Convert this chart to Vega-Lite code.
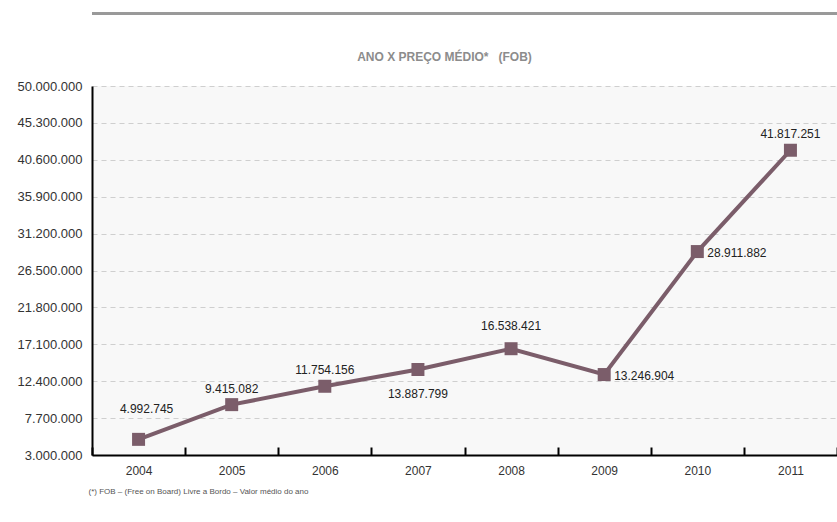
{
  "$schema": "https://vega.github.io/schema/vega-lite/v6.json",
  "width": 745,
  "height": 369,
  "autosize": {"type": "none"},
  "padding": {"left": 92, "top": 86, "right": 0, "bottom": 67},
  "background": "#ffffff",
  "title": {
    "text": "ANO X PREÇO MÉDIO*\u00a0\u00a0\u00a0(FOB)",
    "fontSize": 12,
    "fontWeight": "bold",
    "color": "#8c8c8c",
    "font": "Liberation Sans",
    "offset": 18,
    "dy": 69,
    "dx": -20
  },
  "config": {
    "locale": {"number": {"decimal": ",", "thousands": ".", "grouping": [3], "currency": ["R$", ""]}},
    "view": {"fill": "#f8f8f8", "stroke": null},
    "font": "Liberation Sans"
  },
  "data": {
    "values": [
      {"ano": "2004", "preco": 4992745},
      {"ano": "2005", "preco": 9415082},
      {"ano": "2006", "preco": 11754156},
      {"ano": "2007", "preco": 13887799},
      {"ano": "2008", "preco": 16538421},
      {"ano": "2009", "preco": 13246904},
      {"ano": "2010", "preco": 28911882},
      {"ano": "2011", "preco": 41817251}
    ]
  },
  "encoding": {
    "x": {
      "field": "ano",
      "type": "ordinal",
      "scale": {"paddingInner": 0, "paddingOuter": 0},
      "axis": {
        "title": "(*) FOB – (Free on Board) Livre a Bordo –  Valor médio do ano",
        "titleFontSize": 8,
        "titleFontWeight": "normal",
        "titleColor": "#555555",
        "titleAnchor": "start",
        "titleAlign": "left",
        "titleX": -4,
        "titleY": 32,
        "labelAngle": 0,
        "labelFontSize": 12,
        "labelColor": "#333333",
        "labelPadding": 18,
        "tickBand": "extent",
        "tickSize": -8,
        "tickWidth": 2,
        "tickColor": "#000000",
        "domainColor": "#000000",
        "domainWidth": 2,
        "grid": false
      }
    },
    "y": {
      "field": "preco",
      "type": "quantitative",
      "scale": {"domain": [3000000, 50000000], "nice": false, "zero": false},
      "axis": {
        "title": null,
        "values": [3000000, 7700000, 12400000, 17100000, 21800000, 26500000, 31200000, 35900000, 40600000, 45300000, 50000000],
        "format": ",d",
        "labelFontSize": 13,
        "labelColor": "#333333",
        "labelPadding": 10,
        "ticks": false,
        "domainColor": "#000000",
        "domainWidth": 2,
        "gridColor": "#cfcfcf",
        "gridDash": [5, 4],
        "gridWidth": 1
      }
    }
  },
  "layer": [
    {
      "mark": {"type": "rule", "color": "#999999", "strokeWidth": 2.5, "clip": false},
      "encoding": {"x": null, "y": {"datum": 59200000}}
    },
    {
      "mark": {"type": "line", "color": "#7b5d6a", "strokeWidth": 4}
    },
    {
      "mark": {"type": "point", "shape": "square", "filled": true, "size": 169, "color": "#7b5d6a", "opacity": 1}
    },
    {
      "transform": [{"filter": "datum.ano == '2005' || datum.ano == '2006' || datum.ano == '2011'"}],
      "mark": {"type": "text", "fontSize": 12, "color": "#222222", "dy": -16},
      "encoding": {"text": {"field": "preco", "type": "quantitative", "format": ",d"}}
    },
    {
      "transform": [{"filter": "datum.ano == '2004'"}],
      "mark": {"type": "text", "fontSize": 12, "color": "#222222", "dy": -30, "dx": 8},
      "encoding": {"text": {"field": "preco", "type": "quantitative", "format": ",d"}}
    },
    {
      "transform": [{"filter": "datum.ano == '2008'"}],
      "mark": {"type": "text", "fontSize": 12, "color": "#222222", "dy": -23},
      "encoding": {"text": {"field": "preco", "type": "quantitative", "format": ",d"}}
    },
    {
      "transform": [{"filter": "datum.ano == '2007'"}],
      "mark": {"type": "text", "fontSize": 12, "color": "#222222", "dy": 24},
      "encoding": {"text": {"field": "preco", "type": "quantitative", "format": ",d"}}
    },
    {
      "transform": [{"filter": "datum.ano == '2009' || datum.ano == '2010'"}],
      "mark": {"type": "text", "fontSize": 12, "color": "#222222", "dx": 10, "dy": 1, "align": "left"},
      "encoding": {"text": {"field": "preco", "type": "quantitative", "format": ",d"}}
    }
  ]
}
